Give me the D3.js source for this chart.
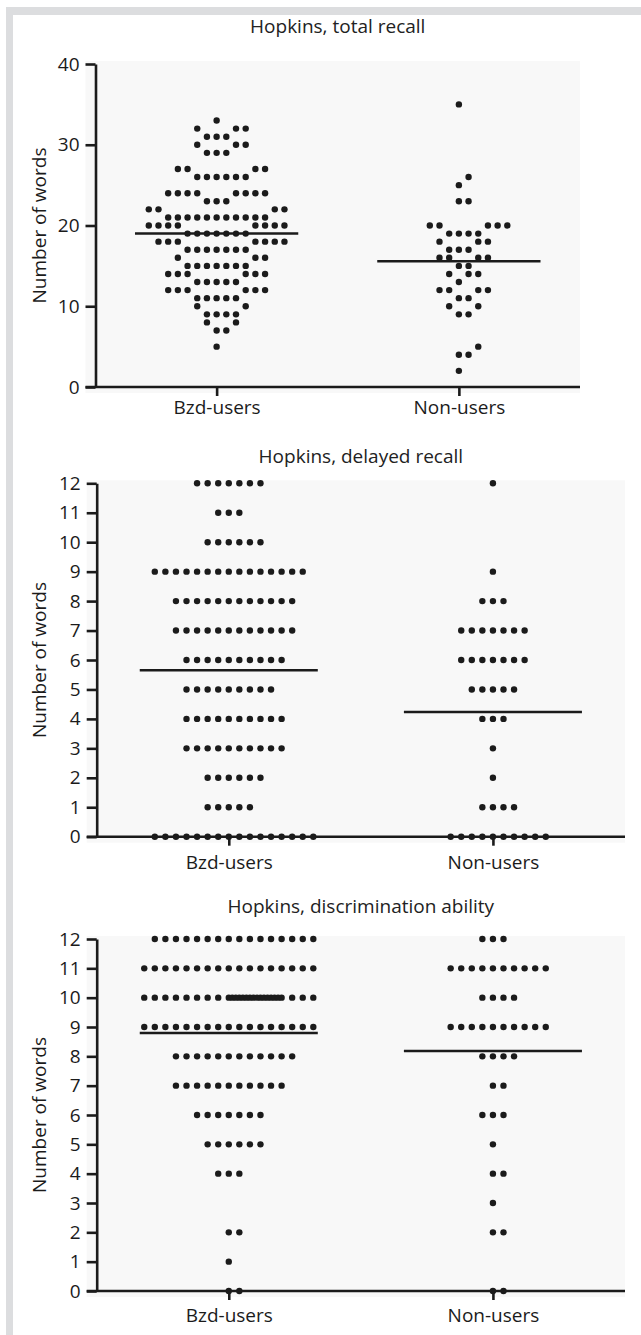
<!DOCTYPE html>
<html>
<head>
<meta charset="utf-8">
<script src="https://cdn.jsdelivr.net/npm/d3@7"></script>
<style>
body { margin: 0; background: #fff; }
svg { display: block; font-family: "Open Sans", sans-serif; }
</style>
</head>
<body>
<svg id="s"></svg>
<script>
// categories and titles
var groups = ["Bzd-users", "Non-users"];
var titles = ["Hopkins, total recall", "Hopkins, delayed recall", "Hopkins, discrimination ability"];
var yLabel = "Number of words";
var ticksTotal = [0, 10, 20, 30, 40];
var ticksShort = [0, 1, 2, 3, 4, 5, 6, 7, 8, 9, 10, 11, 12];

// one entry per participant
var totalBzd = [33,
  32,32,32, 31,31,31, 30,30,30, 29,29,29,
  27,27,27,27, 26,26,26,26,26,26,
  24,24,24,24,24,24,24,24, 23,23,23, 22,22,22,22,
  21,21,21,21,21,21,21,21,21,21,21,
  20,20,20,20,20,20,20,20,
  19,19,19,19,19,19,19, 18,18,18,18,18,18,18, 17,17,17,17,17,17,17,
  16,16,16, 15,15,15,15,15,15,15, 14,14,14,14,14,14, 13,13,13,13,13,
  12,12,12,12,12,12, 11,11,11,11,11, 10,10, 9,9,9,9, 8,8, 7,7, 5];
var totalNon = [35, 26, 25, 23,23, 20,20,20,20,20, 19,19,19,19, 18,18,18, 17,17,17,
  16,16,16,16, 15,15, 14,14,14, 13, 12,12,12,12, 11,11, 10,10, 9,9, 5, 4,4, 2];

var delayedBzd = [12,12,12,12,12,12,12, 11,11,11, 10,10,10,10,10,10,
  9,9,9,9,9,9,9,9,9,9,9,9,9,9,9,
  8,8,8,8,8,8,8,8,8,8,8,8, 7,7,7,7,7,7,7,7,7,7,7,7,
  6,6,6,6,6,6,6,6,6,6, 5,5,5,5,5,5,5,5,5, 4,4,4,4,4,4,4,4,4,4,
  3,3,3,3,3,3,3,3,3,3, 2,2,2,2,2,2, 1,1,1,1,1,
  0,0,0,0,0,0,0,0,0,0,0,0,0,0,0,0];
var delayedNon = [12, 9, 8,8,8, 7,7,7,7,7,7,7, 6,6,6,6,6,6,6, 5,5,5,5,5, 4,4,4, 3, 2,
  1,1,1,1, 0,0,0,0,0,0,0,0,0,0];

var discrBzd = [12,12,12,12,12,12,12,12,12,12,12,12,12,12,12,12,
  11,11,11,11,11,11,11,11,11,11,11,11,11,11,11,11,11,
  10,10,10,10,10,10,10,10,10,10,10,10,10,10,10,10,10,10,10,10,10,10,10,10,10,10,10,
  9,9,9,9,9,9,9,9,9,9,9,9,9,9,9,9,9,
  8,8,8,8,8,8,8,8,8,8,8,8, 7,7,7,7,7,7,7,7,7,7,7,
  6,6,6,6,6,6,6, 5,5,5,5,5,5, 4,4,4, 2,2, 1, 0,0];
var discrNon = [12,12,12, 11,11,11,11,11,11,11,11,11,11, 10,10,10,10,
  9,9,9,9,9,9,9,9,9,9, 8,8,8,8, 7,7, 6,6,6, 5, 4,4, 3, 2,2, 0,0];

var W = 641, H = 1335;
var ink = "#1b1b1b";
var MAXROW = 17;

var s = d3.select('#s').attr('width', W).attr('height', H);

// grey page frame, top and left
s.append('rect').attr('x', 6).attr('y', 7).attr('width', W - 6).attr('height', 8).attr('fill', '#dcdddf');
s.append('rect').attr('x', 6).attr('y', 7).attr('width', 7).attr('height', H - 7).attr('fill', '#dcdddf');

// rows of dots, Prism style: rows that sit right above a block row step round it
function layout(vals, split) {
  var counts = d3.rollup(vals, function(v){ return v.length; }, function(d){ return d; });
  var keys = Array.from(counts.keys()).sort(d3.ascending);
  var out = [], prev = null;
  keys.forEach(function(v){
    var n = counts.get(v), slots = [], i;
    if (split && prev && prev.v === v - 1 && prev.kind === 'block') {
      var r = prev.hi, l = prev.lo;
      for (i = 0; i < n; i++) slots.push(i % 2 === 0 ? ++r : --l);
      prev = {v: v, kind: 'split'};
    } else {
      var m = Math.min(n, MAXROW), lo = -Math.floor((m - 1) / 2);
      for (i = 0; i < m; i++) slots.push(lo + i);
      for (i = 0; i < n - m; i++) slots.push(Math.floor(i / 2) + (i % 2 + 1) / 3);
      prev = {v: v, kind: 'block', lo: lo, hi: lo + m - 1};
    }
    slots.forEach(function(k){ out.push({v: v, k: k}); });
  });
  return out;
}

var panels = [
  {title: titles[0], ticks: ticksTotal, data: [totalBzd, totalNon], top: 64, bottom: 387,
   left: 95.5, right: 580, titleY: 33, labelGap: 27},
  {title: titles[1], ticks: ticksShort, data: [delayedBzd, delayedNon], top: 483.3, bottom: 836.7,
   left: 96.7, right: 625, titleY: 463, labelGap: 32},
  {title: titles[2], ticks: ticksShort, data: [discrBzd, discrNon], top: 939, bottom: 1291,
   left: 96.7, right: 625, titleY: 913, labelGap: 31}
];

panels.forEach(function(p){
  var g = s.append('g');
  var yMax = d3.max(p.ticks);
  var y = d3.scaleLinear().domain([0, yMax]).range([p.bottom, p.top]);
  var x = d3.scalePoint().domain(groups).range([p.left, p.right]).padding(0.5);
  var step = x.step();
  var slotW = step * 0.04;
  var split = Math.abs(y(1) - y(0)) < 10;

  // faint plot background
  g.append('rect')
    .attr('x', p.left - 10).attr('y', p.top - 3)
    .attr('width', p.right - p.left + 10).attr('height', p.bottom - p.top + 9)
    .attr('fill', '#f8f8f8');

  // dots
  groups.forEach(function(name, gi){
    g.append('g').selectAll('circle')
      .data(layout(p.data[gi], split))
      .enter()
      .append('circle')
      .attr('cx', function(d){ return x(name) + d.k * slotW; })
      .attr('cy', function(d){ return y(d.v); })
      .attr('r', 3.2)
      .attr('fill', ink);
  });

  // mean lines
  g.append('g').selectAll('line')
    .data(groups)
    .enter()
    .append('line')
    .attr('x1', function(d){ return x(d) - step * 0.337; })
    .attr('x2', function(d){ return x(d) + step * 0.337; })
    .attr('y1', function(d, i){ return y(d3.mean(p.data[i])); })
    .attr('y2', function(d, i){ return y(d3.mean(p.data[i])); })
    .attr('stroke', ink)
    .attr('stroke-width', 2.6);

  // y axis
  var ya = g.append('g')
    .attr('transform', 'translate(' + p.left + ',0)')
    .call(d3.axisLeft(y).tickValues(p.ticks).tickSize(10).tickSizeOuter(0).tickPadding(6));
  ya.selectAll('path, line').attr('stroke', ink).attr('stroke-width', 2.6);
  ya.selectAll('text').attr('font-size', 19).attr('fill', ink).attr('font-family', '"Open Sans", sans-serif');

  // x axis: baseline runs from the y tick ends to the right edge
  g.append('line')
    .attr('x1', p.left - 10).attr('x2', p.right)
    .attr('y1', p.bottom).attr('y2', p.bottom)
    .attr('stroke', ink).attr('stroke-width', 2.6);
  var xa = g.append('g')
    .attr('transform', 'translate(0,' + p.bottom + ')')
    .call(d3.axisBottom(x).tickSize(9).tickSizeOuter(0));
  xa.select('.domain').remove();
  xa.selectAll('line').attr('stroke', ink).attr('stroke-width', 2.6);
  xa.selectAll('text')
    .attr('y', p.labelGap).attr('dy', 0)
    .attr('font-size', 19).attr('fill', ink).attr('font-family', '"Open Sans", sans-serif');

  // titles
  g.append('text')
    .attr('x', (p.left + p.right) / 2).attr('y', p.titleY)
    .attr('text-anchor', 'middle')
    .attr('font-size', 19).attr('fill', '#222')
    .text(p.title);

  g.append('text')
    .attr('transform', 'translate(46,' + (p.top + p.bottom) / 2 + ') rotate(-90)')
    .attr('text-anchor', 'middle')
    .attr('font-size', 19).attr('fill', ink)
    .text(yLabel);
});
</script>
</body>
</html>
